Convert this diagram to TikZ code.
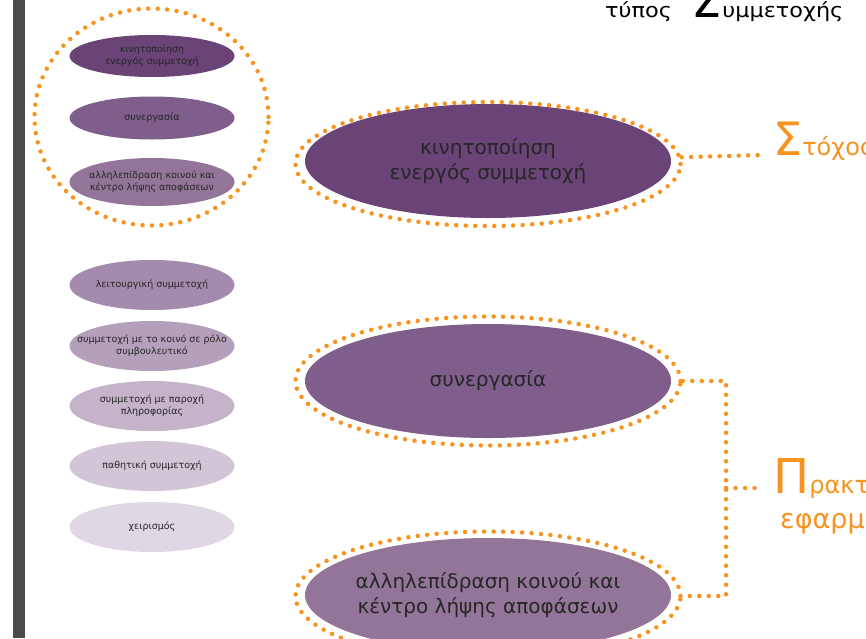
\documentclass[tikz,border=0pt]{standalone}
\usepackage{fontspec}
\setmainfont{DejaVu Sans}
\newfontfamily\widefont[FakeStretch=1.12]{DejaVu Sans}
\usetikzlibrary{shapes.geometric,positioning}
\definecolor{barfill}{HTML}{4A4A4A}
\definecolor{dotorange}{HTML}{F7931E}
\definecolor{plumA}{HTML}{6A4377}
\definecolor{plumB}{HTML}{7F5E8C}
\definecolor{plumC}{HTML}{927599}
\definecolor{plumD}{HTML}{A48AAC}
\definecolor{plumE}{HTML}{B5A0BC}
\definecolor{plumF}{HTML}{C4B3C9}
\definecolor{plumG}{HTML}{D2C5D6}
\definecolor{plumH}{HTML}{E0D7E4}
\begin{document}
\begin{tikzpicture}[x=1pt,y=-1pt,
    blob/.style={ellipse, inner xsep=-40pt, inner ysep=-10pt, align=center, text=black!85},
    small/.style={blob, minimum width=165pt, minimum height=50pt, font=\fontsize{9.5}{12}\selectfont},
    big/.style={blob, minimum width=366pt, minimum height=114pt, font=\fontsize{20}{25}\selectfont},
    ring/.style={ellipse, draw=dotorange, line width=4.5pt, dash pattern=on 0pt off 9.5pt, line cap=round, inner sep=0pt},
    dotline/.style={draw=dotorange, line width=4.5pt, dash pattern=on 0pt off 9.5pt, line cap=round},
    tag/.style={text=dotorange, anchor=base west, inner sep=0pt}]
    \useasboundingbox (0,0) rectangle (866,638);
    \clip (0,0) rectangle (866,638);
    \fill[white] (0,0) rectangle (866,638);
    \fill[barfill] (13,0) rectangle (25,638);
    \node[anchor=base west, inner sep=0pt] (title) at (605,17) {{\widefont\fontsize{20}{20}\selectfont τύπος\hspace{20pt}}{\fontsize{48}{48}\selectfont Σ}{\widefont\fontsize{20}{20}\selectfont υμμετοχής}};

    \node[small, fill=plumA, minimum height=42pt] (s1) at (152,56) {κινητοποίηση\\ενεργός συμμετοχή};
    \node[small, fill=plumB, minimum height=43pt] (s2) at (152,118) {συνεργασία};
    \node[small, fill=plumC, minimum height=48pt] (s3) at (152,182) {αλληλεπίδραση κοινού και\\κέντρο λήψης αποφάσεων};
    \node[small, fill=plumD] (s4) at (152,285) {λειτουργική συμμετοχή};
    \node[small, fill=plumE] (s5) at (152,346) {συμμετοχή με το κοινό σε ρόλο\\συμβουλευτικό};
    \node[small, fill=plumF] (s6) at (152,406) {συμμετοχή με παροχή\\πληροφορίας};
    \node[small, fill=plumG] (s7) at (152,466) {παθητική συμμετοχή};
    \node[small, fill=plumH] (s8) at (152,527) {χειρισμός};
    \node[ring, minimum width=234pt, minimum height=217pt] (ring0) at (151.5,117) {};

    \node[big, fill=plumA] (b1) at (488,161) {κινητοποίηση\\ενεργός συμμετοχή};
    \node[big, fill=plumB] (b2) at (488,381) {συνεργασία};
    \node[big, fill=plumC] (b3) at (488,595) {αλληλεπίδραση κοινού και\\κέντρο λήψης αποφάσεων};
    \node[ring, minimum width=385pt, minimum height=124pt] (ring1) at (488,164) {};
    \node[ring, minimum width=385pt, minimum height=129pt] (ring2) at (488,381) {};
    \node[ring, minimum width=385pt, minimum height=129pt] (ring3) at (488,596) {};

    \node[tag] (goal) at (773,155) {{\fontsize{46}{46}\selectfont Σ}{\fontsize{24}{24}\selectfont τόχος}};
    \node[tag] (praxis) at (773,493) {{\fontsize{48}{48}\selectfont Π}{\fontsize{24}{24}\selectfont ρακτική}};
    \node[tag, font=\fontsize{27}{27}\selectfont] (praxis2) at (780,528) {εφαρμογή};

    \coordinate (goalend) at (762,155);
    \coordinate (fork) at (726,488);
    \coordinate (praxend) at (762,488);
    \draw[dotline] (ring1.2) -- (goalend);
    \draw[dotline] (ring2.east) -| (fork) |- (ring3.east);
    \draw[dotline] (fork) -- (praxend);
\end{tikzpicture}
\end{document}
